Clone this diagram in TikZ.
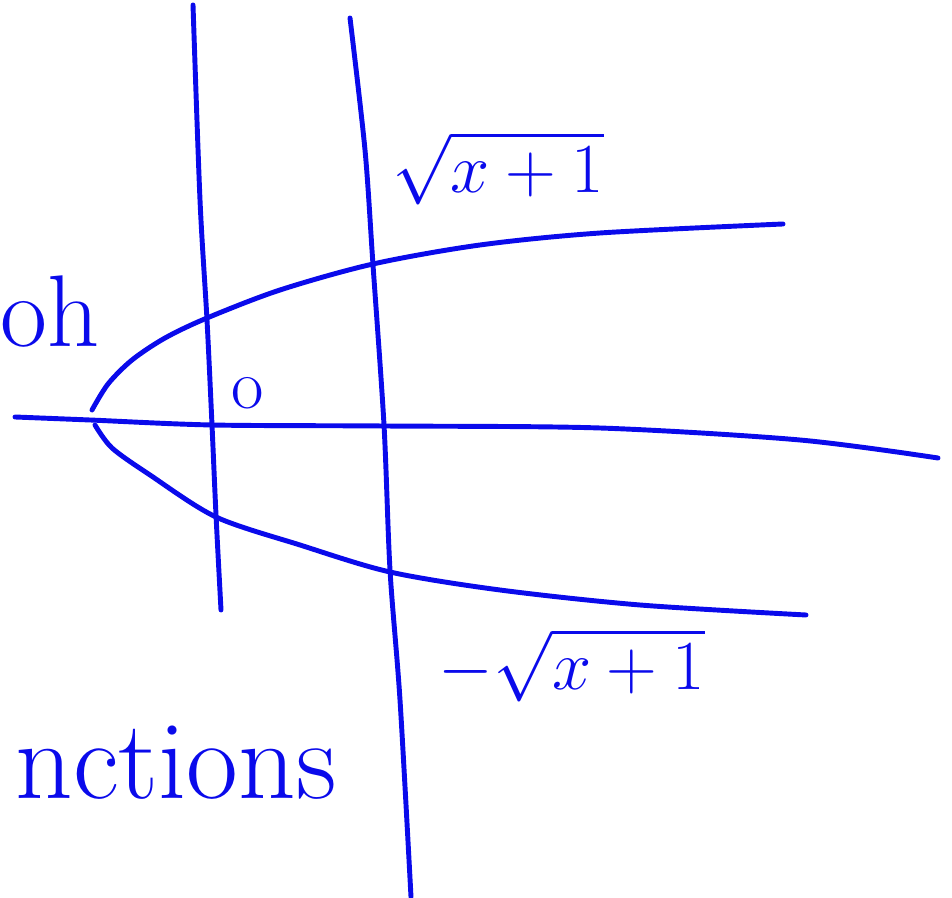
\RequirePackage{fix-cm}
\documentclass[tikz,border=0pt]{standalone}
\usepackage{fontspec}
\definecolor{penblue}{RGB}{10,10,235}
\begin{document}
\begin{tikzpicture}[
        x=0.01cm, y=-0.01cm,
        every node/.style={text=penblue},
        pen/.style={draw=penblue, line width=1.4pt, line cap=round, line join=round},
        hand/.style={font=\fontsize{29}{33}\selectfont, inner sep=0pt},
        rootlabel/.style={font=\fontsize{20}{24}\selectfont, inner sep=0pt}
        ]
        \useasboundingbox (0,0) rectangle (952,898);

        % axes
        \draw[pen] plot[smooth] coordinates {(193,5) (200,200) (207,320) (212,425) (216,515) (221,610)};
        \draw[pen] plot[smooth] coordinates {(350,18) (365,150) (373,265) (384,425) (390,570) (400,700) (411,897)};
        \draw[pen] plot[smooth] coordinates {(15,417) (90,420) (212,425) (384,426) (600,428) (800,440) (938,458)};

        % the two branches
        \draw[pen] plot[smooth] coordinates {(92,410) (108,384) (132,360) (165,338) (207,318) (280,290) (373,264) (480,245) (600,233) (783,224)};
        \draw[pen] plot[smooth] coordinates {(95,425) (112,448) (150,475) (216,517) (300,545) (390,572) (500,590) (640,605) (806,615)};

        % labels
        \node[hand, anchor=west] (graph) at (0,312) {oh};
        \node[hand, font=\fontsize{20}{24}\selectfont] (origin) at (248,393) {o};
        \node[hand, font=\fontsize{32}{36}\selectfont, anchor=west] (funcs) at (15,763) {nctions};
        \node[rootlabel] (upper) at (498,168) {$\sqrt{x+1}$};
        \node[rootlabel] (lower) at (572,665) {$-\sqrt{x+1}$};

    \end{tikzpicture}
\end{document}
